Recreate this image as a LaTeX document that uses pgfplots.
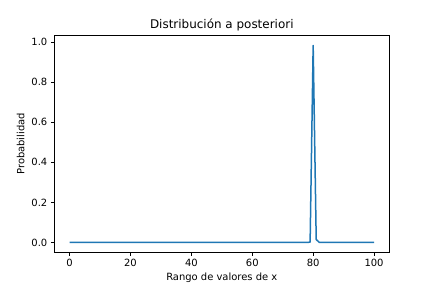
\documentclass[border=0pt]{standalone}
\usepackage{pgfplots}
\pgfplotsset{compat=1.18}
\usepackage{fontspec}
\setmainfont{DejaVu Sans}
\definecolor{tabblue}{HTML}{1F77B4}
\begin{document}
\begin{tikzpicture}
\useasboundingbox (-54.3bp,-35.7bp) rectangle (377.7bp,252.3bp);
\begin{axis}[
  at={(0,0)}, anchor=south west,
  scale only axis, width=335bp, height=217bp,
  xmin=-5, xmax=105, ymin=-0.049, ymax=1.0335,
  xtick={0,20,40,60,80,100},
  ytick={0,0.2,0.4,0.6,0.8,1.0},
  yticklabel style={/pgf/number format/.cd, fixed, fixed zerofill, precision=1},
  /pgf/number format/assume math mode=true,
  tick align=outside, xtick pos=bottom, ytick pos=left,
  major tick length=3.5bp,
  tick style={black, line width=0.8bp},
  axis line style={line width=0.8bp},
  ticklabel style={font=\fontsize{10}{12}\selectfont},
  xlabel={Rango de valores de x},
  ylabel={Probabilidad},
  label style={font=\fontsize{10}{12}\selectfont},
  title={Distribución a posteriori},
  title style={font=\fontsize{12}{14}\selectfont, yshift=-5bp},
  xlabel style={yshift=1bp},
]
\addplot[color=tabblue, line width=1.5bp, line join=round] coordinates {
  (0,0) (10,0) (20,0) (30,0) (40,0) (50,0) (60,0) (70,0) (78,0) (79,0.002)
  (80,0.983) (81,0.015) (82,0.0005) (83,0) (90,0) (100,0)
};
\end{axis}
\end{tikzpicture}
\end{document}
